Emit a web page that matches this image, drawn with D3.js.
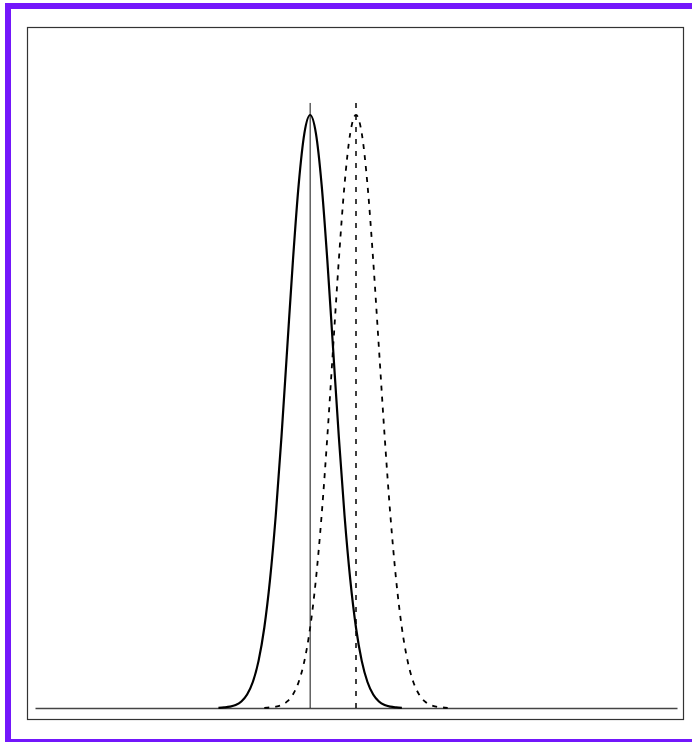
<!DOCTYPE html>
<html>
<head>
<meta charset="utf-8">
<script src="https://cdn.jsdelivr.net/npm/d3@7"></script>
<style>
  html, body { margin: 0; padding: 0; background: #fff; overflow: hidden; }
  svg { display: block; }
</style>
</head>
<body>
<script>
// density values (same shape, shifted by 2)
const solidX = [-4, -3.75, -3.5, -3.25, -3, -2.75, -2.5, -2.25, -2, -1.75, -1.5, -1.25, -1, -0.75, -0.5, -0.25,
  0, 0.25, 0.5, 0.75, 1, 1.25, 1.5, 1.75, 2, 2.25, 2.5, 2.75, 3, 3.25, 3.5, 3.75, 4];
const solidY = [0.0001, 0.0004, 0.0009, 0.0020, 0.0044, 0.0091, 0.0175, 0.0317, 0.0540, 0.0863, 0.1295, 0.1826,
  0.2420, 0.3011, 0.3521, 0.3867, 0.3989, 0.3867, 0.3521, 0.3011, 0.2420, 0.1826, 0.1295, 0.0863, 0.0540,
  0.0317, 0.0175, 0.0091, 0.0044, 0.0020, 0.0009, 0.0004, 0.0001];
const dashedX = [-2, -1.75, -1.5, -1.25, -1, -0.75, -0.5, -0.25, 0, 0.25, 0.5, 0.75, 1, 1.25, 1.5, 1.75,
  2, 2.25, 2.5, 2.75, 3, 3.25, 3.5, 3.75, 4, 4.25, 4.5, 4.75, 5, 5.25, 5.5, 5.75, 6];
const dashedY = [0.0001, 0.0004, 0.0009, 0.0020, 0.0044, 0.0091, 0.0175, 0.0317, 0.0540, 0.0863, 0.1295, 0.1826,
  0.2420, 0.3011, 0.3521, 0.3867, 0.3989, 0.3867, 0.3521, 0.3011, 0.2420, 0.1826, 0.1295, 0.0863, 0.0540,
  0.0317, 0.0175, 0.0091, 0.0044, 0.0020, 0.0009, 0.0004, 0.0001];
// mean markers: [x, top]
const solidMark = [0, 0.407];
const dashedMark = [2, 0.411];
const xDomain = [-12, 16];

const w = 692, h = 742;

const svg = d3.select("body").append("svg")
  .attr("width", w)
  .attr("height", h);

// purple outer frame (right side runs off the page)
svg.append("rect")
  .attr("x", 8).attr("y", 6)
  .attr("width", 720).attr("height", 736)
  .attr("fill", "none")
  .attr("stroke", "#7317fb")
  .attr("stroke-width", 6);

// inner frame
svg.append("rect")
  .attr("x", 27.5).attr("y", 27.5)
  .attr("width", 656).attr("height", 692)
  .attr("fill", "none")
  .attr("stroke", "#333")
  .attr("stroke-width", 1.2);

const xScale = d3.scaleLinear().domain(xDomain).range([35, 677]);
const yScale = d3.scaleLinear().domain([0, 0.3989]).range([708, 115]);

// baseline
svg.append("g")
  .attr("transform", "translate(0," + yScale(0) + ")")
  .call(d3.axisBottom(xScale).tickValues([]).tickSizeOuter(0))
  .call(g => g.select(".domain").attr("stroke", "#444").attr("stroke-width", 1.6));

const line = d3.line()
  .x(d => xScale(d[0]))
  .y(d => yScale(d[1]))
  .curve(d3.curveMonotoneX);

const solid = solidX.map((x, i) => [x, solidY[i]]);
const dashed = dashedX.map((x, i) => [x, dashedY[i]]);

svg.append("path")
  .datum(solid)
  .attr("d", line)
  .attr("fill", "none")
  .attr("stroke", "#000")
  .attr("stroke-width", 2.2);

svg.append("path")
  .datum(dashed)
  .attr("d", line)
  .attr("fill", "none")
  .attr("stroke", "#000")
  .attr("stroke-width", 1.8)
  .attr("stroke-dasharray", "5,6");

// mean markers
svg.append("line")
  .attr("x1", xScale(solidMark[0])).attr("x2", xScale(solidMark[0]))
  .attr("y1", yScale(0)).attr("y2", yScale(solidMark[1]))
  .attr("stroke", "#111")
  .attr("stroke-width", 1);

svg.append("line")
  .attr("x1", xScale(dashedMark[0])).attr("x2", xScale(dashedMark[0]))
  .attr("y1", yScale(0)).attr("y2", yScale(dashedMark[1]))
  .attr("stroke", "#000")
  .attr("stroke-width", 1.5)
  .attr("stroke-dasharray", "5,7");
</script>
</body>
</html>
